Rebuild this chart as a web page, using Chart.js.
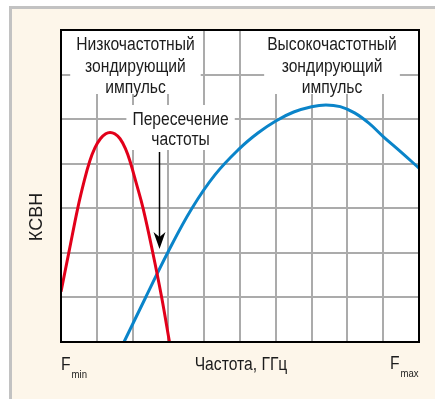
<!DOCTYPE html>
<html>
<head>
<meta charset="utf-8">
<script src="https://cdn.jsdelivr.net/npm/chart.js@4.4.0/dist/chart.umd.min.js"></script>
<style>
html, body { margin: 0; padding: 0; background: #fff; }
</style>
</head>
<body>
<canvas id="chart" width="435" height="399"></canvas>
<script>
// частота в делениях сетки (0 = Fmin, 10 = Fmax), КСВН в делениях
const lowFreq  = [0, 0.22, 0.47, 0.65, 0.8, 0.95, 1.1, 1.25, 1.37, 1.5, 1.65, 1.8, 1.93, 2.1, 2.29, 2.56, 2.81, 3.03];
const lowVswr  = [1.13, 2.01, 3.01, 3.62, 4.05, 4.36, 4.56, 4.67, 4.70, 4.67, 4.56, 4.34, 4.05, 3.57, 3.01, 2.02, 1.01, 0];

const highFreq = [1.76, 2.37, 2.99, 3.65, 4.3, 5.0, 5.5, 6.0, 6.5, 7.0, 7.4, 7.8, 8.2, 8.6, 9.0, 9.5, 10];
const highVswr = [0, 1.01, 2.02, 2.99, 3.75, 4.35, 4.69, 4.96, 5.16, 5.28, 5.32, 5.28, 5.14, 4.91, 4.61, 4.26, 3.90];

const lowLabel   = ['Низкочастотный', 'зондирующий', 'импульс'];
const highLabel  = ['Высокочастотный', 'зондирующий', 'импульс'];
const crossLabel = ['Пересечение', 'частоты'];
const xTitle = 'Частота, ГГц';
const yTitle = 'КСВН';

// узкий гротеск: обычный Liberation Sans, сжатый по горизонтали
const FONT = '"Liberation Sans", Arial, sans-serif';
const SQUEEZE = 0.87;

function toPoints(xs, ys) {
	return xs.map((x, i) => ({x: x, y: ys[i]}));
}

function narrowText(ctx, text, x, y, size, align) {
	ctx.save();
	ctx.font = size + 'px ' + FONT;
	ctx.textAlign = align || 'center';
	ctx.textBaseline = 'alphabetic';
	ctx.translate(x, y);
	ctx.scale(SQUEEZE, 1);
	ctx.fillText(text, 0, 0);
	ctx.restore();
}

function narrowWidth(ctx, text, size) {
	ctx.save();
	ctx.font = size + 'px ' + FONT;
	const w = ctx.measureText(text).width * SQUEEZE;
	ctx.restore();
	return w;
}

function textBox(ctx, lines, cx, top, bottom, pad) {
	let w = 0;
	for(const l of lines)
		w = Math.max(w, narrowWidth(ctx, l, 18));
	ctx.fillStyle = '#fff';
	ctx.fillRect(cx - w/2 - pad, top, w + pad*2, bottom - top);
}

function textLines(ctx, lines, cx, baselines) {
	ctx.fillStyle = '#1c1c1c';
	lines.forEach((l, i) => narrowText(ctx, l, cx, baselines[i], 18));
}

const decor = {
	id: 'decor',
	beforeDraw(chart) {
		const ctx = chart.ctx;
		const a = chart.chartArea;
		ctx.save();
		ctx.fillStyle = '#fff';
		ctx.fillRect(0, 0, chart.width, chart.height);
		ctx.fillStyle = '#fdf6ea';
		ctx.fillRect(12, 9, chart.width - 12, chart.height - 9);
		ctx.fillStyle = '#c2c2c2';
		ctx.fillRect(9, 6, 3, chart.height - 6);
		ctx.fillRect(9, 6, chart.width - 9, 3);
		ctx.fillStyle = '#fff';
		ctx.fillRect(a.left, a.top, a.right - a.left, a.bottom - a.top);
		ctx.restore();
	},
	beforeDatasetsDraw(chart) {
		const ctx = chart.ctx;
		const a = chart.chartArea;
		const x = chart.scales.x;
		ctx.save();
		textBox(ctx, lowLabel, x.getPixelForValue(2.08), a.top, a.top + 64, 6);
		textBox(ctx, highLabel, x.getPixelForValue(7.57), a.top, a.top + 64, 3);
		textBox(ctx, crossLabel, x.getPixelForValue(3.34), a.top + 75, a.top + 120, 6);
		ctx.restore();
	},
	afterDatasetsDraw(chart) {
		const ctx = chart.ctx;
		const a = chart.chartArea;
		const x = chart.scales.x;
		ctx.save();

		// рамка поля графика
		ctx.strokeStyle = '#000';
		ctx.lineWidth = 2;
		ctx.strokeRect(a.left, a.top, a.right - a.left, a.bottom - a.top);

		textLines(ctx, lowLabel, x.getPixelForValue(2.08), [a.top + 20, a.top + 42, a.top + 63]);
		textLines(ctx, highLabel, x.getPixelForValue(7.57), [a.top + 20, a.top + 42, a.top + 63]);
		textLines(ctx, crossLabel, x.getPixelForValue(3.34), [a.top + 95, a.top + 115]);

		// стрелка к точке пересечения
		const ax = Math.round(x.getPixelForValue(2.75)) + 0.5;
		const y0 = a.top + 122, tip = a.top + 219;
		ctx.strokeStyle = '#000';
		ctx.lineWidth = 1.5;
		ctx.beginPath();
		ctx.moveTo(ax, y0);
		ctx.lineTo(ax, tip - 10);
		ctx.stroke();
		ctx.fillStyle = '#000';
		ctx.beginPath();
		ctx.moveTo(ax, tip);
		ctx.lineTo(ax - 6, tip - 17);
		ctx.lineTo(ax, tip - 12);
		ctx.lineTo(ax + 6, tip - 17);
		ctx.closePath();
		ctx.fill();

		// подписи осей
		ctx.fillStyle = '#1c1c1c';
		narrowText(ctx, xTitle, (a.left + a.right) / 2 + 1, a.bottom + 28, 18);

		const fw = narrowWidth(ctx, 'F', 18);
		narrowText(ctx, 'F', a.left, a.bottom + 28, 18, 'left');
		narrowText(ctx, 'min', a.left + fw + 1, a.bottom + 36, 11, 'left');
		narrowText(ctx, 'F', a.right - 29, a.bottom + 27, 18, 'left');
		narrowText(ctx, 'max', a.right - 29 + fw + 1, a.bottom + 35, 11, 'left');

		ctx.save();
		ctx.translate(a.left - 19, (a.top + a.bottom) / 2 + 31);
		ctx.rotate(-Math.PI / 2);
		ctx.font = '18px ' + FONT;
		ctx.textAlign = 'center';
		ctx.fillText(yTitle, 0, 0);
		ctx.restore();

		ctx.restore();
	}
};

new Chart(document.getElementById('chart'), {
	type: 'line',
	data: {
		datasets: [
			{
				label: lowLabel.join(' '),
				data: toPoints(lowFreq, lowVswr),
				borderColor: '#e2001a',
				borderWidth: 3,
				pointRadius: 0,
				tension: 0.4,
				fill: false,
			},
			{
				label: highLabel.join(' '),
				data: toPoints(highFreq, highVswr),
				borderColor: '#0a84c9',
				borderWidth: 3,
				pointRadius: 0,
				tension: 0.4,
				fill: false,
			},
		]
	},
	options: {
		responsive: false,
		animation: false,
		layout: {
			padding: {left: 61, top: 30, right: 16, bottom: 57}
		},
		plugins: {
			legend: {display: false},
			tooltip: {enabled: false},
		},
		scales: {
			x: {
				type: 'linear',
				min: 0,
				max: 10,
				ticks: {display: false, stepSize: 1},
				grid: {color: '#ababab', lineWidth: 2, drawTicks: false},
				border: {display: false},
			},
			y: {
				type: 'linear',
				min: 0,
				max: 7,
				ticks: {display: false, stepSize: 1},
				grid: {color: '#ababab', lineWidth: 2, drawTicks: false},
				border: {display: false},
			}
		}
	},
	plugins: [decor]
});
</script>
</body>
</html>
